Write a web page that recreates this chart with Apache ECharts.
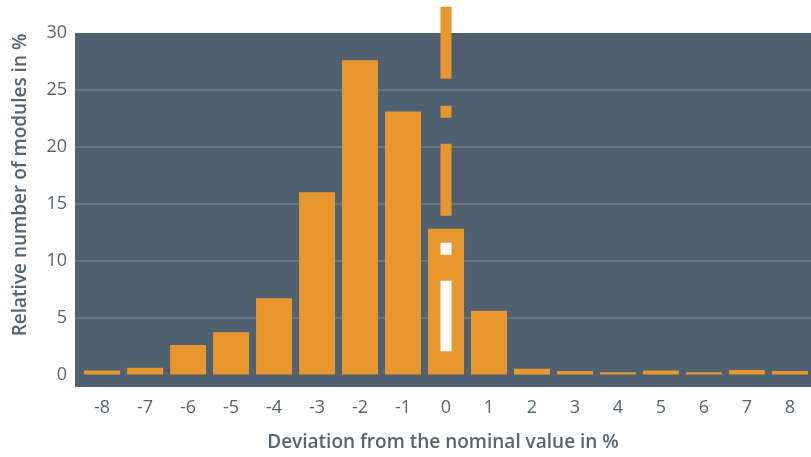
<!DOCTYPE html>
<html>
<head>
<meta charset="utf-8">
<script src="https://cdn.jsdelivr.net/npm/echarts@6/dist/echarts.min.js"></script>
<style>html,body{margin:0;padding:0;background:#fff;}#c{width:811px;height:457px;}</style>
</head>
<body>
<div id="c"></div>
<script>
// Categories: deviation from nominal value (%)
const deviations = [-8,-7,-6,-5,-4,-3,-2,-1,0,1,2,3,4,5,6,7,8];
// Relative number of modules (%)
const shares = [0.35,0.6,2.6,3.7,6.7,16.0,27.6,23.1,12.8,5.6,0.5,0.3,0.2,0.35,0.2,0.4,0.3];
// Y tick labels
const yTicks = [0,5,10,15,20,25,30];
const yGridLines = [5,10,15,20,25];
// Nominal-value reference line (dash-dot) at x = 0
const refX = 0;
const refTop = 32.3;
const refEnd = 2.05;

const orange = '#e8972f';
const textColor = '#56646f';
const dashPattern = [72,27,12,26];
const period = dashPattern.reduce((a,b)=>a+b,0);

const chart = echarts.init(document.getElementById('c'), null, {renderer:'canvas'});
const barIdx = deviations.indexOf(refX);

const option = {
  animation:false,
  grid:{left:75,right:0,top:33,bottom:68,show:true,backgroundColor:'#4f6170',borderWidth:0},
  xAxis:{
    type:'value', min:-8.63, max:8.49,
    axisLine:{show:false}, axisTick:{show:false}, splitLine:{show:false},
    axisLabel:{customValues:deviations, color:textColor, fontFamily:'Open Sans', fontSize:18, margin:12},
    name:'Deviation from the nominal value in %', nameLocation:'middle', nameGap:46,
    nameTextStyle:{color:textColor, fontFamily:'Open Sans', fontSize:19, fontWeight:600}
  },
  yAxis:{
    type:'value', min:-1.1, max:30,
    axisLine:{show:false}, axisTick:{show:false}, splitLine:{show:false},
    axisLabel:{customValues:yTicks, color:textColor, fontFamily:'Open Sans', fontSize:18, margin:8},
    name:'Relative number of modules in %', nameLocation:'middle', nameGap:45, nameRotate:90,
    nameTextStyle:{color:textColor, fontFamily:'Open Sans', fontSize:19, fontWeight:600, padding:[0,0,0,50]}
  },
  series:[
    {
      type:'line', z:1, clip:false, symbol:'none', silent:true,
      data:[[refX,refTop],[refX,refEnd]],
      lineStyle:{color:orange,width:11,type:dashPattern,cap:'butt'},
      markLine:{
        silent:true, symbol:'none', z:1, label:{show:false},
        lineStyle:{color:'#6f808d',width:1.5,type:'solid'},
        data:yGridLines.map(v=>({yAxis:v}))
      }
    },
    {
      type:'bar', z:2, barWidth:36,
      itemStyle:{color:orange},
      data:deviations.map((d,i)=>[d,shares[i]])
    },
    {
      type:'line', z:3, clip:false, symbol:'none', silent:true,
      data:[[refX,shares[barIdx]],[refX,refEnd]],
      lineStyle:{color:'#ffffff',width:11,type:dashPattern,cap:'butt',dashOffset:0}
    }
  ]
};
chart.setOption(option);
const pTop = chart.convertToPixel({gridIndex:0},[refX,refTop])[1];
const pBar = chart.convertToPixel({gridIndex:0},[refX,shares[barIdx]])[1];
const off = ((pBar - pTop) % period + period) % period;
chart.setOption({series:[{},{},{lineStyle:{dashOffset:off}}]});
</script>
</body>
</html>
